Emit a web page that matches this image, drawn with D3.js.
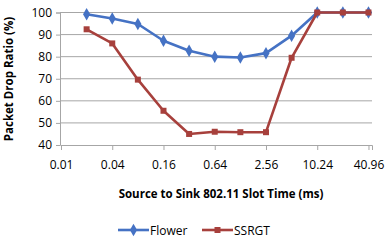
<!DOCTYPE html>
<html><head><meta charset="utf-8">
<script src="https://cdn.jsdelivr.net/npm/d3@7"></script>
<style>body{margin:0;background:#fff}svg{display:block}</style>
</head><body><svg id="c" width="388" height="240"></svg>
<script>
const slotTimes = [0.02,0.04,0.08,0.16,0.32,0.64,1.28,2.56,5.12,10.24,20.48,40.96];
const tickLabels = ["0.01","0.04","0.16","0.64","2.56","10.24","40.96"];
const yTicks = [40,50,60,70,80,90,100];
const flower = [99.2,97.3,94.8,87.2,82.7,80.0,79.6,81.6,89.5,100,100,100];
const ssrgt = [92.4,86.0,69.6,55.5,45.0,46.0,45.8,45.8,79.5,100,100,100];

const svg = d3.select("#c");
const font = "'Open Sans', 'Liberation Sans', sans-serif";
const x = d3.scaleLog().base(4).domain([0.01, 40.96*1.1]).range([61, 372]);
const y = d3.scaleLinear().domain([40,100]).range([145,12.5]);

// gridlines
svg.append("g").selectAll("line").data(yTicks.slice(1)).join("line")
  .attr("x1",60).attr("x2",372).attr("y1",d=>y(d)).attr("y2",d=>y(d))
  .attr("stroke","#a6a6a6").attr("stroke-width",1);
// y axis
const ya = svg.append("g").attr("transform","translate(60,0)")
  .call(d3.axisLeft(y).tickValues(yTicks).tickSize(4).tickPadding(4));
ya.select(".domain").attr("stroke","#a6a6a6");
ya.selectAll(".tick line").attr("stroke","#a6a6a6");
ya.selectAll("text").attr("font-family",font).attr("font-size",12).attr("fill","#000");
// x axis
const xa = svg.append("g").attr("transform","translate(0,145)")
  .call(d3.axisBottom(x).tickValues(tickLabels.map(Number)).tickFormat((d,i)=>tickLabels[i]).tickSize(5).tickPadding(10));
xa.select(".domain").attr("stroke","#a6a6a6");
xa.selectAll(".tick line").attr("stroke","#a6a6a6");
xa.selectAll("text").attr("font-family",font).attr("font-size",12).attr("fill","#000");

// titles
svg.append("text").attr("x",221).attr("y",198).attr("text-anchor","middle")
  .attr("font-family",font).attr("font-weight","bold").attr("font-size",11.5).text("Source to Sink 802.11 Slot Time (ms)");
svg.append("text").attr("transform","translate(13,79) rotate(-90)").attr("text-anchor","middle")
  .attr("font-family",font).attr("font-weight","bold").attr("font-size",11.5).text("Packet Drop Ratio (%)");

const series = [
  {name:"Flower", vals:flower, color:"#4572c4", shape:d3.symbolDiamond, size:45},
  {name:"SSRGT", vals:ssrgt, color:"#a7403c", shape:d3.symbolSquare, size:36}
];
const line = d3.line().x(d=>x(d[0])).y(d=>y(d[1]));
series.forEach(s=>{
  const pts = slotTimes.map((t,i)=>[t,s.vals[i]]);
  svg.append("path").datum(pts).attr("d",line).attr("fill","none")
    .attr("stroke",s.color).attr("stroke-width",2.6).attr("stroke-linejoin","round");
  svg.append("g").selectAll("path").data(pts).join("path")
    .attr("transform",d=>`translate(${x(d[0])},${y(d[1])})`)
    .attr("d",d3.symbol().type(s.shape).size(s.size)).attr("fill",s.color);
});

// legend
const leg = [{s:series[0],x:118},{s:series[1],x:202}];
leg.forEach(l=>{
  const g = svg.append("g").attr("transform",`translate(${l.x},230)`);
  g.append("line").attr("x1",0).attr("x2",31).attr("stroke",l.s.color).attr("stroke-width",2.6);
  g.append("path").attr("transform","translate(15.5,0)").attr("d",d3.symbol().type(l.s.shape).size(l.s.size)).attr("fill",l.s.color);
  g.append("text").attr("x",32).attr("y",4.5).attr("font-family",font).attr("font-size",12).text(l.s.name);
});
</script></body></html>
